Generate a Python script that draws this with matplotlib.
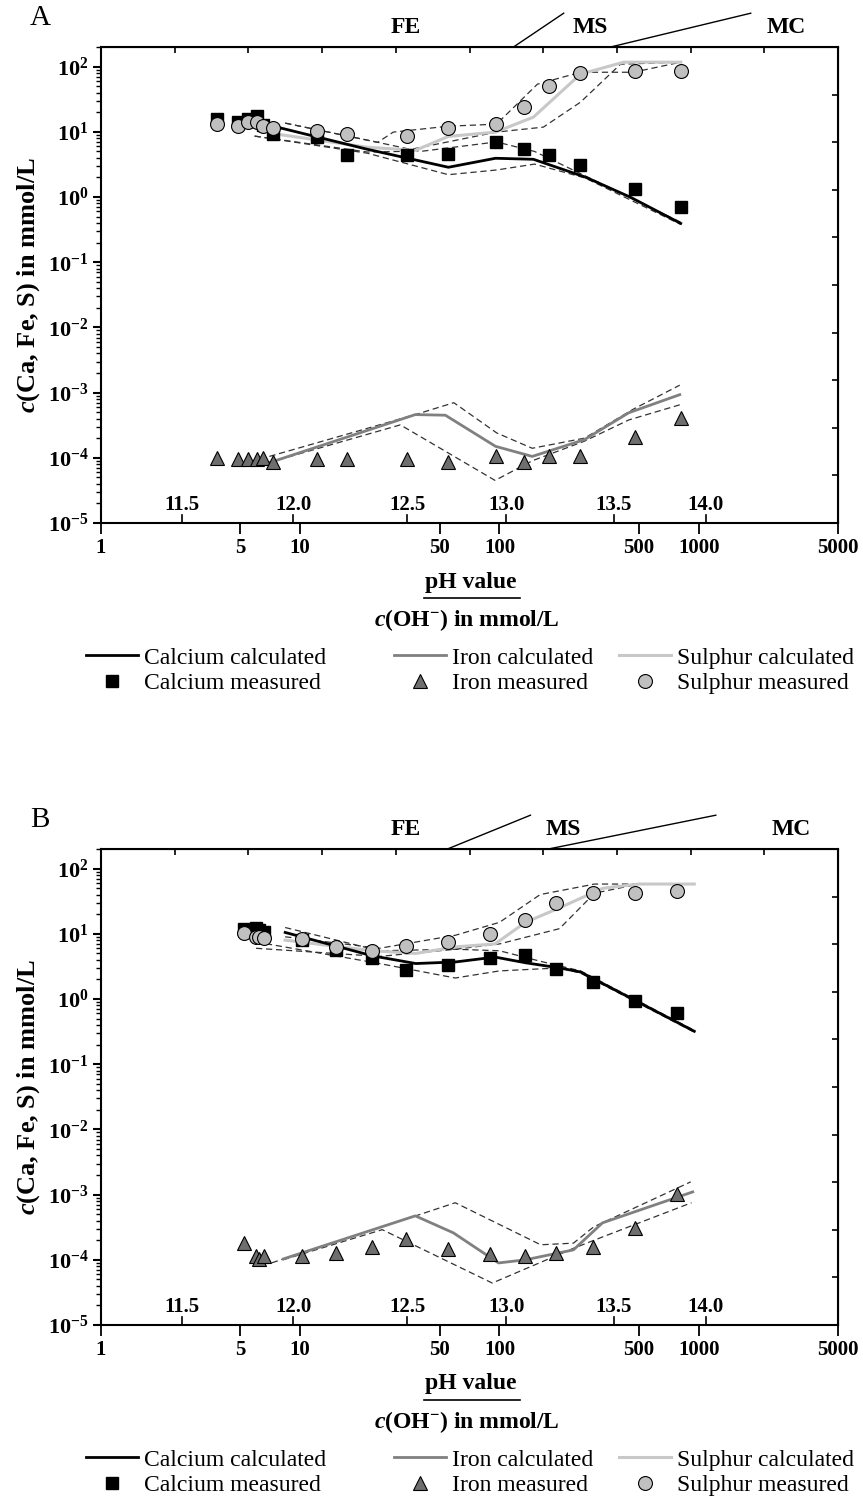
import numpy as np
import matplotlib
matplotlib.use('Agg')
import matplotlib.pyplot as plt
import matplotlib.transforms as mtransforms
from matplotlib.lines import Line2D

plt.rcParams['font.family'] = ['Liberation Serif', 'DejaVu Serif']
plt.rcParams['mathtext.fontset'] = 'custom'
plt.rcParams['mathtext.rm'] = 'Liberation Serif:bold'
plt.rcParams['mathtext.bf'] = 'Liberation Serif:bold'
plt.rcParams['mathtext.it'] = 'Liberation Serif:bold:italic'
plt.rcParams['mathtext.default'] = 'bf'

# ---- panel A data ----
xA = [3.83, 4.88, 5.48, 6.08, 6.52, 7.32, 12.2, 17.2, 34.5, 55.4, 96.6, 133, 178, 255, 477, 812]
caA = [15.6, 14.0, 15.6, 17.4, 12.6, 9.4, 8.3, 4.4, 4.4, 4.5, 6.9, 5.4, 4.4, 3.1, 1.31, 0.70]
feA = [1.0e-4, 9.5e-5, 9.5e-5, 9.5e-5, 1.0e-4, 8.5e-5, 9.5e-5, 9.5e-5, 9.5e-5, 8.5e-5,
       1.05e-4, 8.5e-5, 1.05e-4, 1.05e-4, 2.05e-4, 4.1e-4]
sA = [13.1, 12.2, 14.0, 14.0, 12.2, 11.3, 10.2, 9.2, 8.6, 11.3, 13.1, 23.9, 50, 79, 85, 85]

caA_calc_x = [7.66, 21.7, 55.4, 95.5, 148, 271, 455, 812]
caA_calc = [11.8, 5.4, 2.86, 3.93, 3.79, 2.01, 0.99, 0.394]
caA_hi_x = [8.4, 24.5, 40, 96.6, 150, 270, 812]
caA_hi = [13.6, 6.9, 5.0, 7.0, 5.0, 2.1, 0.41]
caA_lo_x = [5.9, 21.7, 55.4, 97, 150, 270, 812]
caA_lo = [8.6, 4.7, 2.2, 2.6, 3.2, 1.95, 0.38]

sA_calc_x = [7.66, 21.7, 37.8, 55.4, 95.5, 148, 255, 420, 812]
sA_calc = [9.2, 5.8, 5.2, 8.5, 9.9, 16.8, 76.7, 117, 117]
sA_hi_x = [8.4, 24.5, 29.3, 55.4, 96.6, 155, 255, 470, 812]
sA_hi = [13.6, 6.9, 9.9, 12.2, 13.1, 53.8, 82, 82, 117]
sA_lo_x = [5.9, 21.7, 31.8, 96.6, 166, 255, 405, 812]
sA_lo = [8.6, 4.9, 5.0, 9.9, 11.8, 28.5, 109, 117]

feA_calc_x = [7.07, 37.8, 53.5, 95.5, 146, 267, 445, 803]
feA_calc = [8.5e-5, 4.6e-4, 4.5e-4, 1.5e-4, 1.05e-4, 1.9e-4, 4.9e-4, 9.3e-4]
feA_hi_x = [7.0, 37.8, 59, 97, 146, 267, 471, 803]
feA_hi = [1.05e-4, 4.6e-4, 7.0e-4, 2.4e-4, 1.4e-4, 2.0e-4, 5.6e-4, 1.3e-3]
feA_lo_x = [7.0, 31.8, 95, 146, 267, 445, 803]
feA_lo = [8.5e-5, 3.2e-4, 4.5e-5, 9e-5, 1.8e-4, 3.8e-4, 6.5e-4]

# ---- panel B data ----
xB = [5.23, 6.01, 6.22, 6.59, 10.2, 15.2, 23.0, 34.1, 55.4, 89.1, 134, 193, 293, 477, 775]
caB = [12.0, 12.5, 11.5, 10.5, 8.0, 5.6, 4.2, 2.8, 3.3, 4.2, 4.8, 2.9, 1.85, 0.92, 0.62]
feB = [1.82e-4, 1.15e-4, 1.03e-4, 1.15e-4, 1.15e-4, 1.28e-4, 1.58e-4, 2.10e-4, 1.47e-4,
       1.23e-4, 1.15e-4, 1.28e-4, 1.58e-4, 3.09e-4, 1.03e-3]
sB = [10.2, 9.0, 8.8, 8.5, 8.2, 6.3, 5.5, 6.5, 7.5, 10.0, 16.5, 30, 42, 43, 45]

caB_calc_x = [8.4, 23, 38, 60, 95, 135, 200, 255, 950]
caB_calc = [10.5, 4.6, 3.5, 3.7, 4.4, 3.6, 3.0, 2.6, 0.32]
caB_hi_x = [8.4, 25, 60, 100, 160, 255, 950]
caB_hi = [12.5, 5.5, 5.8, 5.5, 3.8, 2.7, 0.33]
caB_lo_x = [6.0, 25, 60, 100, 200, 255, 950]
caB_lo = [7.5, 3.5, 2.1, 2.7, 3.0, 2.5, 0.31]

sB_calc_x = [8.4, 23, 38, 60, 95, 135, 200, 330, 500, 950]
sB_calc = [8.0, 5.5, 5.0, 6.3, 7.0, 15, 25, 50, 58, 58]
sB_hi_x = [8.4, 25, 60, 100, 160, 300, 950]
sB_hi = [9.0, 6.0, 9.5, 15, 40, 58, 58]
sB_lo_x = [6.0, 25, 60, 100, 200, 300, 500, 950]
sB_lo = [6.0, 4.5, 5.8, 7.0, 12, 42, 58, 58]

feB_calc_x = [8.22, 37.8, 58.7, 98.9, 135, 235, 329, 933]
feB_calc = [1.03e-4, 4.72e-4, 2.59e-4, 8.95e-5, 1.0e-4, 1.42e-4, 3.69e-4, 1.10e-3]
feB_hi_x = [7.2, 37.8, 60, 161, 235, 297, 912]
feB_hi = [9e-5, 4.7e-4, 7.5e-4, 1.7e-4, 1.8e-4, 3.2e-4, 1.57e-3]
feB_lo_x = [8.2, 25.8, 92, 235, 330, 920]
feB_lo = [1.0e-4, 2.9e-4, 4.4e-5, 1.5e-4, 2.25e-4, 7.5e-4]

# x ticks, pH scale and zone labels
x_ticks = [1, 5, 10, 50, 100, 500, 1000, 5000]
ph_pos = [2.55, 9.22, 34.5, 108, 374, 1084]
ph_labels = ['11.5', '12.0', '12.5', '13.0', '13.5', '14.0']
zone_labels = ['FE', 'MS', 'MC']
zoneA_x = [33.7, 287, 2735]
zoneB_x = [33.7, 210, 2900]
slantA = [(117.6, 210), (361, 1824)]
slantB = [(54.8, 143), (176, 1218)]

CA_COL = 'black'
FE_COL = '#808080'
S_COL = '#c8c8c8'
DASH = dict(color='#333333', lw=0.9, ls=(0, (5, 3)))


def draw_panel(ax, d, zone_x, slants):
    ax.set_xscale('log')
    ax.set_yscale('log')
    # uncertainty bands
    for key in ['ca_hi', 'ca_lo', 's_hi', 's_lo', 'fe_hi', 'fe_lo']:
        ax.plot(d[key + '_x'], d[key], **DASH)
    ax.plot(d['fe_calc_x'], d['fe_calc'], color=FE_COL, lw=2.0)
    ax.plot(d['s_calc_x'], d['s_calc'], color=S_COL, lw=2.2)
    ax.plot(d['ca_calc_x'], d['ca_calc'], color=CA_COL, lw=2.0)
    ax.plot(d['x'], d['ca'], 's', color='black', ms=8, mec='black')
    ax.plot(d['x'], d['fe'], '^', mfc='#6e6e6e', mec='black', mew=0.8, ms=10)
    ax.plot(d['x'], d['s'], 'o', mfc='#c0c0c0', mec='black', mew=0.8, ms=10)

    ax.set_xlim(1, 5000)
    ax.set_ylim(1e-5, 2e2)
    ax.set_xticks(x_ticks)
    ax.set_xticklabels([str(t) for t in x_ticks], fontsize=15, fontweight='bold')
    ax.xaxis.set_minor_locator(matplotlib.ticker.NullLocator())
    ax.set_yticks([10.0 ** k for k in range(-5, 3)])
    ax.set_yticklabels([r'$10^{%d}$' % k for k in range(-5, 3)], fontsize=16)
    ax.yaxis.set_minor_locator(matplotlib.ticker.LogLocator(subs=np.arange(2, 10)))
    ax.yaxis.set_minor_formatter(matplotlib.ticker.NullFormatter())
    ax.tick_params(axis='x', which='major', direction='out', length=8, width=1.3, pad=3)
    ax.tick_params(axis='y', which='major', direction='out', length=6, width=1.5, pad=3)
    ax.tick_params(axis='y', which='minor', direction='out', length=3.5, width=1.0)
    for sp in ax.spines.values():
        sp.set_linewidth(1.5)

    # equal-division ticks on top and right spines
    top = ax.secondary_xaxis('top')
    top.set_xticks(np.logspace(0, np.log10(5000), 11))
    top.xaxis.set_minor_locator(matplotlib.ticker.NullLocator())
    top.tick_params(direction='in', length=4, width=1.2, labeltop=False)
    right = ax.secondary_yaxis('right')
    right.set_yticks(np.logspace(-5, np.log10(2e2), 11))
    right.yaxis.set_minor_locator(matplotlib.ticker.NullLocator())
    right.tick_params(direction='in', length=4, width=1.2, labelright=False)

    ax.set_ylabel(r'$\mathit{c}$(Ca, Fe, S) in mmol/L', fontsize=19, fontweight='bold', labelpad=4)

    trans = mtransforms.blended_transform_factory(ax.transData, ax.transAxes)
    for p, lab in zip(ph_pos, ph_labels):
        ax.plot([p, p], [0, 0.017], transform=trans, color='black', lw=1.2, clip_on=False)
        ax.text(p, 0.016, lab, transform=trans, ha='center', va='bottom',
                fontsize=15, fontweight='bold')
    for zx, zl in zip(zone_x, zone_labels):
        ax.text(zx, 1.04, zl, transform=trans, ha='center', va='center',
                fontsize=17, fontweight='bold')
    for x0, x1 in slants:
        ax.plot([x0, x1], [1.0, 1.071], transform=trans, color='black', lw=1.0, clip_on=False)


fig = plt.figure(figsize=(8.63, 15.04), dpi=100)
W, H = 863.0, 1504.0
axA = fig.add_axes([101 / W, 1 - 523 / H, 737 / W, 476 / H])
axB = fig.add_axes([101 / W, 1 - 1325 / H, 737 / W, 476 / H])

dA = dict(x=xA, ca=caA, fe=feA, s=sA,
          ca_calc_x=caA_calc_x, ca_calc=caA_calc, ca_hi_x=caA_hi_x, ca_hi=caA_hi,
          ca_lo_x=caA_lo_x, ca_lo=caA_lo, s_calc_x=sA_calc_x, s_calc=sA_calc,
          s_hi_x=sA_hi_x, s_hi=sA_hi, s_lo_x=sA_lo_x, s_lo=sA_lo,
          fe_calc_x=feA_calc_x, fe_calc=feA_calc, fe_hi_x=feA_hi_x, fe_hi=feA_hi,
          fe_lo_x=feA_lo_x, fe_lo=feA_lo)
dB = dict(x=xB, ca=caB, fe=feB, s=sB,
          ca_calc_x=caB_calc_x, ca_calc=caB_calc, ca_hi_x=caB_hi_x, ca_hi=caB_hi,
          ca_lo_x=caB_lo_x, ca_lo=caB_lo, s_calc_x=sB_calc_x, s_calc=sB_calc,
          s_hi_x=sB_hi_x, s_hi=sB_hi, s_lo_x=sB_lo_x, s_lo=sB_lo,
          fe_calc_x=feB_calc_x, fe_calc=feB_calc, fe_hi_x=feB_hi_x, fe_hi=feB_hi,
          fe_lo_x=feB_lo_x, fe_lo=feB_lo)

draw_panel(axA, dA, zoneA_x, slantA)
draw_panel(axB, dB, zoneB_x, slantB)

legend_cols = [
    ([Line2D([], [], color=CA_COL, lw=2.0),
      Line2D([], [], ls='none', marker='s', color='black', ms=8)],
     ['Calcium calculated', 'Calcium measured'], 86),
    ([Line2D([], [], color=FE_COL, lw=2.0),
      Line2D([], [], ls='none', marker='^', mfc='#6e6e6e', mec='black', mew=0.8, ms=10)],
     ['Iron calculated', 'Iron measured'], 394),
    ([Line2D([], [], color=S_COL, lw=2.2),
      Line2D([], [], ls='none', marker='o', mfc='#c0c0c0', mec='black', mew=0.8, ms=10)],
     ['Sulphur calculated', 'Sulphur measured'], 619),
]

for off, letter in [(0, 'A'), (802, 'B')]:
    fig.text(40 / W, 1 - (18 + off) / H, letter, ha='center', va='center', fontsize=21)
    fig.text(471 / W, 1 - (582 + off) / H, 'pH value', ha='center', va='center',
             fontsize=17, fontweight='bold')
    fig.add_artist(Line2D([424 / W, 520 / W], [1 - (598 + off) / H] * 2, color='black', lw=1.2))
    fig.text(467 / W, 1 - (620 + off) / H, r'$\mathit{c}$(OH$^{-}$) in mmol/L', ha='center',
             va='center', fontsize=17, fontweight='bold')
    for hs, ls, xl in legend_cols:
        fig.legend(hs, ls, loc='upper left', bbox_to_anchor=(xl / W, 1 - (647 + off) / H),
                   frameon=False, fontsize=17, handlelength=2.2, handletextpad=0.25,
                   labelspacing=0.18, borderaxespad=0, borderpad=0)

fig.savefig('out.png', dpi=100)
